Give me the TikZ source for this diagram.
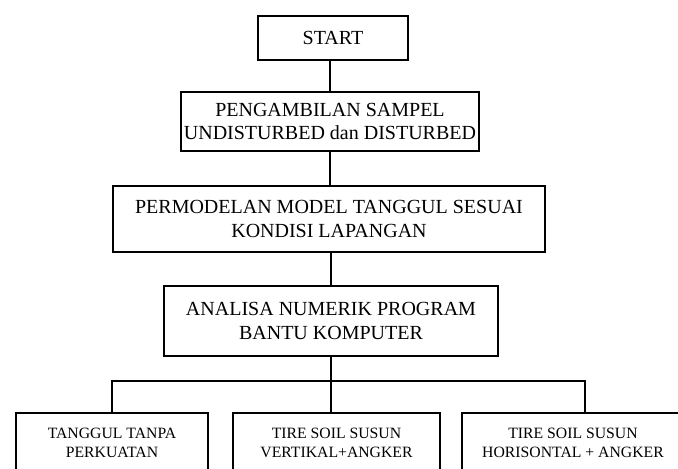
\documentclass[tikz,border=0pt]{standalone}
\usepackage{fontspec}
\setmainfont{Liberation Serif}
\begin{document}
\begin{tikzpicture}[x=0.75pt,y=-0.75pt,
  box/.style={draw, line width=1.4pt, align=center, inner sep=0pt, font=\fontsize{15}{17.6}\selectfont},
  smallbox/.style={draw, line width=1.4pt, align=center, inner sep=0pt, font=\fontsize{11.8}{14}\selectfont},
  link/.style={line width=1.4pt}]
\clip (0,0) rectangle (678,468);
\node[box, minimum width=112.5pt, minimum height=33pt] (start) at (333,38) {START};
\node[box, minimum width=223.5pt, minimum height=44.25pt] (b2) at (330,121.5) {PENGAMBILAN SAMPEL\\UNDISTURBED dan DISTURBED};
\node[box, minimum width=324pt, minimum height=49.5pt] (b3) at (329,219) {PERMODELAN MODEL TANGGUL SESUAI\\KONDISI LAPANGAN};
\node[box, minimum width=250.5pt, minimum height=52.5pt] (b4) at (331,321) {ANALISA NUMERIK PROGRAM\\BANTU KOMPUTER};
\node[smallbox, minimum width=144pt, minimum height=45pt] (c1) at (112,443) {TANGGUL TANPA\\PERKUATAN};
\node[smallbox, minimum width=155.25pt, minimum height=45pt] (c2) at (336.5,443) {TIRE SOIL SUSUN\\VERTIKAL+ANGKER};
\node[smallbox, minimum width=166.5pt, minimum height=45pt] (c3) at (573,443) {TIRE SOIL SUSUN\\HORISONTAL + ANGKER};
\coordinate (busL) at (112,381);
\coordinate (busR) at (585,381);
\draw[link] (b2.north |- start.south) -- (b2.north);
\draw[link] (b2.south) -- (b2.south |- b3.north);
\draw[link] (b4.north |- b3.south) -- (b4.north);
\draw[link] (b4.south) -- (b4.south |- c2.north);
\draw[link] (busL |- c1.north) -- (busL) -- (busR) -- (busR |- c3.north);
\end{tikzpicture}
\end{document}
